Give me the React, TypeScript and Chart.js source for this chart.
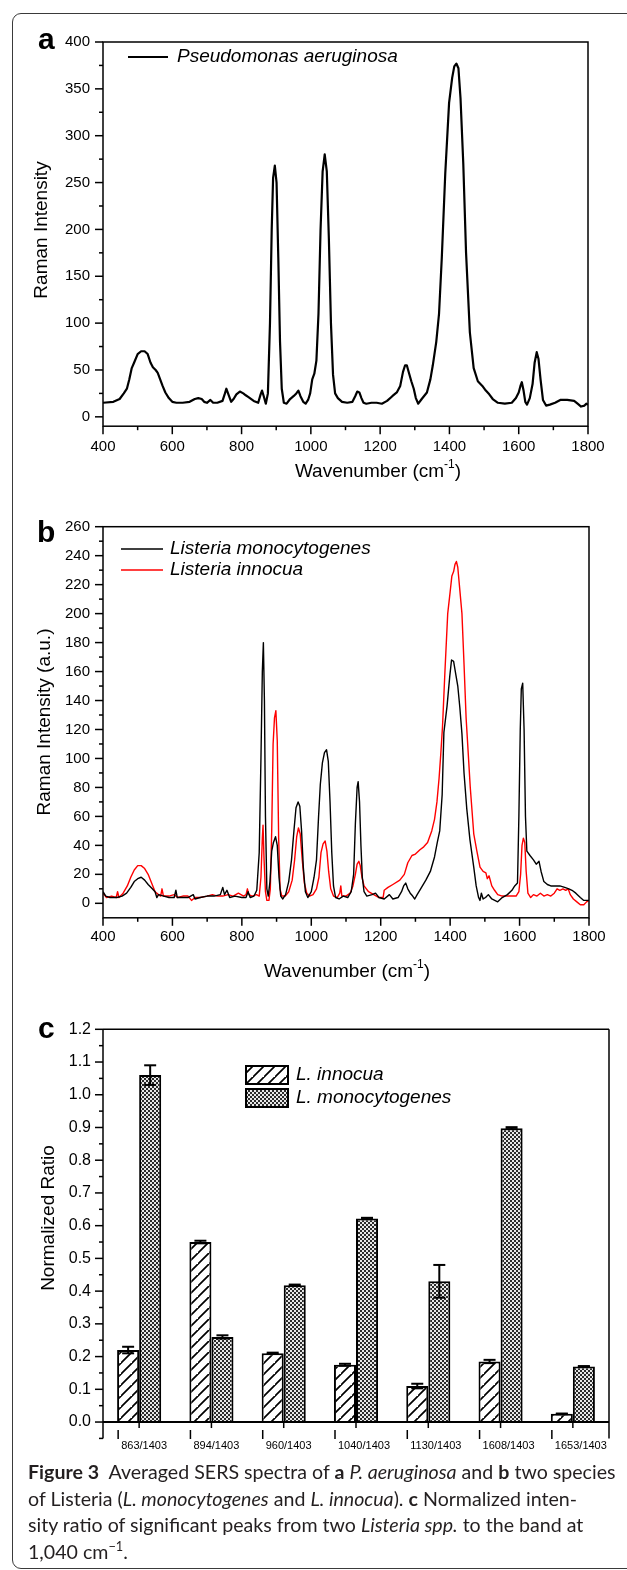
import React, { useEffect, useRef } from "react";
import { Chart, registerables } from "chart.js";

Chart.register(...registerables);

const SANS = "'Liberation Sans', Arial, Helvetica, sans-serif";
Chart.defaults.font.family = SANS;
Chart.defaults.color = "#000";

// ---------------- Panel a : Pseudomonas aeruginosa ----------------
const A_LABEL = "Pseudomonas aeruginosa";
const A_WAVENUMBER = [
  400, 430, 448, 460, 469, 476, 483, 490, 500, 510, 520, 529, 537, 544, 552, 558, 565, 572, 580, 590,
  600, 612, 630, 650, 665, 675, 685, 692, 700, 710, 718, 730, 745, 752, 756, 762, 770, 777, 785, 795,
  805, 812, 820, 835, 848, 855, 859, 864, 870, 876, 882, 887, 891, 896, 901, 906, 911, 916, 922, 930,
  940, 950, 958, 964, 970, 978, 985, 992, 998, 1004, 1010, 1016, 1022, 1028, 1034, 1040, 1046, 1052, 1058, 1064,
  1070, 1078, 1090, 1105, 1120, 1128, 1134, 1140, 1146, 1152, 1160, 1175, 1190, 1205, 1220, 1235, 1248, 1258, 1266, 1272,
  1277, 1283, 1290, 1297, 1303, 1310, 1320, 1335, 1345, 1352, 1362, 1370, 1378, 1388, 1399, 1408, 1414, 1420, 1426, 1432,
  1440, 1448, 1459, 1470, 1482, 1495, 1505, 1515, 1525, 1540, 1560, 1580, 1592, 1600, 1605, 1609, 1614, 1619, 1624, 1632,
  1640, 1646, 1652, 1657, 1663, 1670, 1679, 1690, 1705, 1720, 1740, 1760, 1770, 1780, 1790, 1795, 1800,
];
const A_INTENSITY = [
  15, 16, 19, 25, 30, 40, 52, 58, 67, 70, 70, 67, 58, 53, 50, 47, 40, 33, 26, 20,
  16, 15, 15, 16, 19, 20, 19, 16, 15, 18, 15, 15, 17, 25, 30, 24, 16, 19, 24, 27,
  25, 23, 21, 17, 15, 24, 28, 22, 14, 25, 100, 200, 255, 268, 250, 170, 80, 30, 15, 14,
  19, 22, 25, 28, 22, 16, 14, 18, 25, 40, 46, 60, 110, 200, 262, 280, 262, 190, 100, 45,
  25, 20, 16, 15, 16, 22, 27, 26, 20, 15, 14, 15, 15, 14, 17, 22, 26, 33, 48, 55,
  55, 47, 38, 30, 20, 14, 19, 26, 40, 55, 80, 110, 170, 260, 335, 362, 374, 377, 372, 340,
  270, 175, 90, 52, 38, 33, 28, 24, 19, 15, 14, 15, 20, 26, 33, 37, 28, 16, 13, 20,
  35, 58, 69, 62, 40, 18, 12, 13, 15, 18, 18, 17, 14, 11, 12, 14, 13,
];

// ---------------- Panel b : Listeria ----------------
const B_MONO_LABEL = "Listeria monocytogenes";
const B_MONO_WAVENUMBER = [
  400, 408, 420, 440, 455, 468, 480, 490, 500, 510, 520, 530, 542, 550, 555, 560, 575, 590, 605, 610,
  614, 630, 645, 660, 665, 680, 700, 720, 738, 745, 750, 757, 765, 780, 800, 812, 818, 824, 835, 843,
  850, 855, 859, 862, 865, 868, 872, 876, 881, 886, 891, 897, 902, 907, 912, 918, 926, 935, 943, 950,
  956, 962, 967, 972, 977, 983, 990, 1000, 1008, 1015, 1021, 1026, 1032, 1038, 1044, 1049, 1054, 1059, 1064, 1070,
  1080, 1092, 1105, 1115, 1122, 1127, 1132, 1135, 1139, 1143, 1147, 1152, 1160, 1175, 1185, 1195, 1210, 1225, 1235, 1250,
  1260, 1266, 1272, 1278, 1285, 1292, 1298, 1305, 1315, 1330, 1343, 1355, 1363, 1370, 1377, 1382, 1391, 1399, 1404, 1410,
  1417, 1422, 1428, 1434, 1440, 1448, 1457, 1468, 1475, 1482, 1486, 1490, 1495, 1502, 1510, 1520, 1537, 1550, 1565, 1578,
  1586, 1594, 1598, 1602, 1605, 1609, 1613, 1617, 1621, 1630, 1640, 1648, 1656, 1662, 1670, 1680, 1690, 1700, 1716, 1730,
  1742, 1751, 1762, 1775, 1785, 1795, 1800,
];
const B_MONO_INTENSITY = [
  8, 5, 4, 4, 5, 7, 11, 15, 17, 18, 16, 13, 10, 8, 4, 6, 5, 4, 4, 9,
  4, 4, 4, 6, 3, 4, 5, 5, 6, 11, 6, 9, 4, 5, 4, 4, 8, 4, 5, 9,
  35, 100, 160, 180, 140, 60, 10, 5, 15, 36, 42, 46, 40, 18, 5, 3, 6, 15, 30, 50,
  66, 70, 67, 50, 25, 8, 4, 8, 18, 30, 60, 82, 97, 104, 106, 98, 70, 35, 12, 4,
  3, 5, 4, 8, 20, 55, 80, 84, 70, 40, 18, 8, 5, 6, 7, 4, 3, 6, 3, 4,
  8, 12, 14, 10, 7, 5, 3, 6, 10, 16, 22, 32, 42, 50, 75, 118, 136, 157, 168, 167,
  157, 150, 135, 117, 90, 65, 44, 25, 12, 4, 2, 7, 3, 4, 6, 3, 1, 4, 6, 9,
  12, 14, 60, 120, 148, 152, 120, 60, 36, 33, 30, 27, 29, 22, 15, 13, 12, 12, 12, 11,
  10, 9, 7, 4, 2, 2, 2,
];
const B_INNO_LABEL = "Listeria innocua";
const B_INNO_WAVENUMBER = [
  400, 410, 425, 438, 442, 446, 458, 470, 480, 490, 500, 510, 520, 530, 540, 550, 560, 566, 570, 574,
  590, 605, 615, 630, 645, 655, 665, 680, 700, 715, 730, 745, 760, 775, 790, 805, 812, 816, 820, 830,
  842, 850, 855, 859, 861, 864, 868, 872, 878, 882, 886, 890, 894, 898, 902, 906, 910, 915, 925, 935,
  945, 952, 958, 963, 968, 974, 980, 987, 995, 1005, 1015, 1022, 1028, 1034, 1040, 1045, 1050, 1056, 1064, 1075,
  1082, 1085, 1088, 1100, 1112, 1120, 1127, 1132, 1137, 1141, 1146, 1152, 1165, 1180, 1195, 1207, 1210, 1221, 1235, 1255,
  1268, 1278, 1290, 1300, 1313, 1324, 1335, 1347, 1355, 1362, 1368, 1373, 1378, 1385, 1393, 1400, 1405, 1410, 1414, 1418,
  1422, 1428, 1434, 1440, 1446, 1451, 1458, 1468, 1477, 1486, 1495, 1503, 1507, 1512, 1520, 1528, 1537, 1550, 1570, 1590,
  1598, 1603, 1607, 1611, 1615, 1619, 1624, 1632, 1640, 1650, 1660, 1670, 1680, 1690, 1700, 1708, 1716, 1725, 1733, 1740,
  1746, 1755, 1765, 1775, 1785, 1793, 1800,
];
const B_INNO_INTENSITY = [
  7, 4, 5, 4, 8, 4, 7, 12, 18, 23, 26, 26, 24, 20, 14, 8, 6, 5, 10, 5,
  5, 6, 4, 5, 5, 2, 4, 4, 5, 6, 5, 5, 6, 5, 7, 5, 6, 10, 6, 5,
  6, 5, 18, 45, 54, 30, 8, 2, 2, 10, 50, 110, 128, 133, 112, 45, 10, 5, 5, 8,
  16, 30, 46, 52, 48, 30, 14, 7, 5, 6, 10, 18, 35, 41, 43, 36, 22, 10, 5, 4,
  7, 12, 5, 5, 7, 12, 20, 27, 29, 26, 18, 12, 8, 6, 4, 4, 9, 11, 13, 16,
  20, 28, 33, 34, 37, 39, 42, 50, 58, 70, 86, 103, 122, 160, 200, 215, 226, 229, 234, 236,
  232, 216, 200, 165, 128, 108, 80, 48, 36, 25, 22, 21, 17, 19, 12, 9, 6, 5, 5, 5,
  8, 20, 40, 45, 42, 22, 7, 4, 6, 5, 7, 5, 6, 5, 7, 10, 9, 10, 9, 10,
  6, 3, 1, -1, -1, 1, 2,
];

// ---------------- Panel c : normalized ratios ----------------
const C_LABELS = ["863/1403", "894/1403", "960/1403", "1040/1403", "1130/1403", "1608/1403", "1653/1403"];
const C_INNO_LABEL = "L. innocua";
const C_INNOCUA = [0.22, 0.55, 0.21, 0.175, 0.11, 0.185, 0.025];
const C_INNOCUA_ERR = [0.01, 0.004, 0.002, 0.003, 0.007, 0.005, 0.001];
const C_MONO_LABEL = "L. monocytogenes";
const C_MONO = [1.06, 0.26, 0.418, 0.622, 0.43, 0.898, 0.17];
const C_MONO_ERR = [0.03, 0.005, 0.002, 0.002, 0.05, 0.003, 0.001];

// ---------------- ticks ----------------
const X_MAJOR = [400, 600, 800, 1000, 1200, 1400, 1600, 1800];
const X_MINOR = [500, 700, 900, 1100, 1300, 1500, 1700];
const A_Y_MAJOR = [0, 50, 100, 150, 200, 250, 300, 350, 400];
const A_Y_MINOR = [25, 75, 125, 175, 225, 275, 325, 375];
const B_Y_MAJOR = [0, 20, 40, 60, 80, 100, 120, 140, 160, 180, 200, 220, 240, 260];
const B_Y_MINOR = [10, 30, 50, 70, 90, 110, 130, 150, 170, 190, 210, 230, 250];
const C_Y_MAJOR = [0, 0.1, 0.2, 0.3, 0.4, 0.5, 0.6, 0.7, 0.8, 0.9, 1.0, 1.1, 1.2];
const C_Y_MINOR = [-0.05, 0.05, 0.15, 0.25, 0.35, 0.45, 0.55, 0.65, 0.75, 0.85, 0.95, 1.05, 1.15];

const toPoints = (xs: number[], ys: number[]) => xs.map((x, i) => ({ x, y: ys[i] }));

function seg(ctx: CanvasRenderingContext2D, x1: number, y1: number, x2: number, y2: number) {
  ctx.beginPath();
  ctx.moveTo(x1, y1);
  ctx.lineTo(x2, y2);
  ctx.stroke();
}

function rotatedText(ctx: CanvasRenderingContext2D, text: string, cx: number, cy: number, font: string) {
  ctx.save();
  ctx.translate(cx, cy);
  ctx.rotate(-Math.PI / 2);
  ctx.font = font;
  ctx.textAlign = "center";
  ctx.textBaseline = "middle";
  ctx.fillStyle = "#000";
  ctx.fillText(text, 0, 0);
  ctx.restore();
}

function wavenumberTitle(ctx: CanvasRenderingContext2D, cx: number, cy: number) {
  const main = "19px " + SANS;
  const sup = "12px " + SANS;
  ctx.save();
  ctx.fillStyle = "#000";
  ctx.textAlign = "left";
  ctx.textBaseline = "alphabetic";
  ctx.font = main;
  const w1 = ctx.measureText("Wavenumber (cm").width;
  const w3 = ctx.measureText(")").width;
  ctx.font = sup;
  const w2 = ctx.measureText("-1").width;
  const x0 = cx - (w1 + w2 + w3) / 2;
  const base = cy + 7;
  ctx.font = main;
  ctx.fillText("Wavenumber (cm", x0, base);
  ctx.font = sup;
  ctx.fillText("-1", x0 + w1, base - 9);
  ctx.font = main;
  ctx.fillText(")", x0 + w1 + w2, base);
  ctx.restore();
}

const spectrumDecor = {
  id: "decor",
  afterDraw(chart: any, _a: any, o: any) {
    const { ctx, chartArea: ca } = chart;
    const xs = chart.scales.x;
    const ys = chart.scales.y;
    const t = o.top;
    ctx.save();
    ctx.strokeStyle = "#000";
    ctx.fillStyle = "#000";
    ctx.lineWidth = 1.5;
    ctx.strokeRect(ca.left, ca.top, ca.right - ca.left, ca.bottom - ca.top);
    for (const v of X_MAJOR) { const p = xs.getPixelForValue(v); seg(ctx, p, ca.bottom, p, ca.bottom + 8); }
    for (const v of X_MINOR) { const p = xs.getPixelForValue(v); seg(ctx, p, ca.bottom, p, ca.bottom + 4); }
    for (const v of o.yMajor) { const p = ys.getPixelForValue(v); seg(ctx, ca.left - 8, p, ca.left, p); }
    for (const v of o.yMinor) { const p = ys.getPixelForValue(v); seg(ctx, ca.left - 4, p, ca.left, p); }
    // panel letter
    ctx.font = "bold 30px " + SANS;
    ctx.textAlign = "left";
    ctx.textBaseline = "alphabetic";
    ctx.fillText(o.letter, o.letterX, o.letterY - t);
    // legend
    chart.data.datasets.forEach((ds: any, i: number) => {
      const y = o.legendY[i] - t;
      ctx.strokeStyle = ds.borderColor;
      ctx.lineWidth = o.legendLineWidth;
      seg(ctx, o.legendX1, y, o.legendX2, y);
      ctx.fillStyle = "#000";
      ctx.font = "italic 19px " + SANS;
      ctx.textBaseline = "middle";
      ctx.textAlign = "left";
      ctx.fillText(ds.label, o.legendTextX, y);
    });
    rotatedText(ctx, o.yTitle, o.yTitleX, o.yTitleY - t, "19px " + SANS);
    wavenumberTitle(ctx, o.xTitleX, o.xTitleY - t);
    ctx.restore();
  },
};

function spectrumConfig(opts: any) {
  return {
    type: "line",
    data: { datasets: opts.datasets },
    options: {
      responsive: false,
      animation: false,
      events: [],
      layout: { padding: { left: 0, right: 627 - opts.plotRight, top: opts.plotTop - opts.top, bottom: 0 } },
      elements: { point: { radius: 0 }, line: { tension: 0, borderJoinStyle: "round" } },
      scales: {
        x: {
          type: "linear",
          min: 400,
          max: 1800,
          afterBuildTicks: (s: any) => { s.ticks = X_MAJOR.map((v) => ({ value: v })); },
          afterFit: (s: any) => { s.height = opts.height - (opts.plotBottom - opts.top); },
          grid: { display: false, drawTicks: false },
          border: { display: false },
          ticks: { font: { size: 15, family: SANS }, color: "#000", padding: opts.xPad, maxRotation: 0, autoSkip: false, callback: (v: any) => String(v) },
        },
        y: {
          type: "linear",
          min: opts.yMin,
          max: opts.yMax,
          afterBuildTicks: (s: any) => { s.ticks = opts.yMajor.map((v: number) => ({ value: v })); },
          afterFit: (s: any) => { s.width = opts.plotLeft; },
          grid: { display: false, drawTicks: false },
          border: { display: false },
          ticks: { font: { size: 15, family: SANS }, color: "#000", padding: 13, autoSkip: false, callback: (v: any) => String(v) },
        },
      },
      plugins: {
        legend: { display: false },
        tooltip: { enabled: false },
        decor: opts.decor,
      },
    },
    plugins: [spectrumDecor],
  } as any;
}

function hatchPattern(): CanvasPattern {
  const c = document.createElement("canvas");
  const n = 11;
  c.width = n;
  c.height = n;
  const g = c.getContext("2d")!;
  g.fillStyle = "#fff";
  g.fillRect(0, 0, n, n);
  g.strokeStyle = "#000";
  g.lineWidth = 1.7;
  g.beginPath();
  g.moveTo(-2, n + 2); g.lineTo(n + 2, -2);
  g.moveTo(-2 - n, n + 2); g.lineTo(2, -2);
  g.moveTo(n - 2, 2 * n + 2); g.lineTo(2 * n + 2, n - 2);
  g.stroke();
  return g.createPattern(c, "repeat")!;
}

function dotPattern(): CanvasPattern {
  const c = document.createElement("canvas");
  c.width = 4;
  c.height = 4;
  const g = c.getContext("2d")!;
  g.fillStyle = "#2b2b2b";
  g.fillRect(0, 0, 4, 4);
  g.fillStyle = "#e8e8e8";
  g.fillRect(0, 0, 2, 2);
  g.fillRect(2, 2, 2, 2);
  return g.createPattern(c, "repeat")!;
}

const barDecor = {
  id: "bdecor",
  afterDatasetsDraw(chart: any) {
    const { ctx } = chart;
    const ys = chart.scales.y;
    ctx.save();
    ctx.strokeStyle = "#000";
    ctx.lineWidth = 2;
    chart.data.datasets.forEach((ds: any, i: number) => {
      const meta = chart.getDatasetMeta(i);
      ds.data.forEach((v: number, j: number) => {
        const el = meta.data[j];
        const e = ds.errors[j];
        const yt = ys.getPixelForValue(v + e);
        const yb = ys.getPixelForValue(v - e);
        seg(ctx, el.x, yt, el.x, yb);
        seg(ctx, el.x - 6, yt, el.x + 6, yt);
        seg(ctx, el.x - 6, yb, el.x + 6, yb);
      });
    });
    ctx.restore();
  },
  afterDraw(chart: any, _a: any, o: any) {
    const { ctx, chartArea: ca } = chart;
    const xs = chart.scales.x;
    const ys = chart.scales.y;
    const t = o.top;
    ctx.save();
    ctx.strokeStyle = "#000";
    ctx.fillStyle = "#000";
    ctx.lineWidth = 1.5;
    seg(ctx, ca.left, ca.top, ca.right, ca.top);
    seg(ctx, ca.left, ca.top, ca.left, ca.bottom);
    seg(ctx, ca.right, ca.top, ca.right, ca.bottom);
    const y0 = ys.getPixelForValue(0);
    ctx.lineWidth = 2;
    seg(ctx, ca.left, y0, ca.right, y0);
    ctx.lineWidth = 1.5;
    for (const v of C_Y_MAJOR) { const p = ys.getPixelForValue(v); seg(ctx, ca.left - 8, p, ca.left, p); }
    for (const v of C_Y_MINOR) { const p = ys.getPixelForValue(v); seg(ctx, ca.left - 4, p, ca.left, p); }
    ctx.font = "11px " + SANS;
    ctx.textAlign = "left";
    ctx.textBaseline = "middle";
    chart.data.labels.forEach((lab: string, i: number) => {
      const p = xs.getPixelForValue(i);
      seg(ctx, p, y0, p, y0 + 6);
      seg(ctx, p - 21, o.markY1 - t, p - 21, o.markY2 - t);
      ctx.fillText(lab, p - 18, o.labelY - t);
    });
    chart.data.datasets.forEach((ds: any, i: number) => {
      const yTop = o.legendY[i] - t;
      ctx.fillStyle = ds.backgroundColor;
      ctx.fillRect(o.legendX, yTop, o.legendW, o.legendH);
      ctx.lineWidth = 2;
      ctx.strokeStyle = "#000";
      ctx.strokeRect(o.legendX, yTop, o.legendW, o.legendH);
      ctx.fillStyle = "#000";
      ctx.font = "italic 19px " + SANS;
      ctx.textBaseline = "middle";
      ctx.fillText(ds.label, o.legendTextX, yTop + o.legendH / 2);
    });
    ctx.font = "bold 30px " + SANS;
    ctx.textBaseline = "alphabetic";
    ctx.fillText(o.letter, o.letterX, o.letterY - t);
    rotatedText(ctx, o.yTitle, o.yTitleX, o.yTitleY - t, "19px " + SANS);
    ctx.restore();
  },
};

const CAPTION_FONT = "Lato, 'Open Sans', sans-serif";

export default function App() {
  const refA = useRef<HTMLCanvasElement>(null);
  const refB = useRef<HTMLCanvasElement>(null);
  const refC = useRef<HTMLCanvasElement>(null);

  useEffect(() => {
    const charts: Chart[] = [];
    charts.push(
      new Chart(
        refA.current!,
        spectrumConfig({
          top: 20, height: 480, plotLeft: 103, plotRight: 588, plotTop: 35, plotBottom: 426.2,
          yMin: -10, yMax: 400, yMajor: A_Y_MAJOR, xPad: 11.5,
          datasets: [
            { label: A_LABEL, data: toPoints(A_WAVENUMBER, A_INTENSITY), borderColor: "#000", borderWidth: 2.2 },
          ],
          decor: {
            top: 20, yMajor: A_Y_MAJOR, yMinor: A_Y_MINOR, letter: "a", letterX: 38, letterY: 49,
            legendY: [57], legendX1: 128, legendX2: 168, legendTextX: 177, legendLineWidth: 2,
            yTitle: "Raman Intensity", yTitleX: 42, yTitleY: 230, xTitleX: 378, xTitleY: 470,
          },
        })
      )
    );
    charts.push(
      new Chart(
        refB.current!,
        spectrumConfig({
          top: 500, height: 500, plotLeft: 103, plotRight: 589, plotTop: 526.7, plotBottom: 917.8,
          yMin: -10, yMax: 260, yMajor: B_Y_MAJOR, xPad: 10,
          datasets: [
            { label: B_MONO_LABEL, data: toPoints(B_MONO_WAVENUMBER, B_MONO_INTENSITY), borderColor: "#000", borderWidth: 1.4 },
            { label: B_INNO_LABEL, data: toPoints(B_INNO_WAVENUMBER, B_INNO_INTENSITY), borderColor: "#ff0000", borderWidth: 1.4 },
          ],
          decor: {
            top: 500, yMajor: B_Y_MAJOR, yMinor: B_Y_MINOR, letter: "b", letterX: 37, letterY: 542,
            legendY: [549, 570], legendX1: 121, legendX2: 163, legendTextX: 170, legendLineWidth: 1.4,
            yTitle: "Raman Intensity (a.u.)", yTitleX: 45, yTitleY: 722, xTitleX: 347, xTitleY: 970,
          },
        })
      )
    );
    const cTop = 1000;
    const cHeight = 460;
    const cPlotTop = 1029.3;
    const cPlotBottom = 1440.4;
    charts.push(
      new Chart(refC.current!, {
        type: "bar",
        data: {
          labels: C_LABELS,
          datasets: [
            { label: C_INNO_LABEL, data: C_INNOCUA, errors: C_INNOCUA_ERR, backgroundColor: hatchPattern(), borderColor: "#000", borderWidth: 2 } as any,
            { label: C_MONO_LABEL, data: C_MONO, errors: C_MONO_ERR, backgroundColor: dotPattern(), borderColor: "#000", borderWidth: 2 } as any,
          ],
        },
        options: {
          responsive: false,
          animation: false,
          events: [],
          layout: { padding: { left: 0, right: 627 - 609, top: cPlotTop - cTop, bottom: 0 } },
          datasets: { bar: { categoryPercentage: 0.61, barPercentage: 1 } },
          scales: {
            x: {
              type: "category",
              offset: true,
              grid: { display: false, drawTicks: false },
              border: { display: false },
              ticks: { display: false },
              afterFit: (s: any) => { s.height = cHeight - (cPlotBottom - cTop); },
            },
            y: {
              type: "linear",
              min: -0.05,
              max: 1.2,
              afterBuildTicks: (s: any) => { s.ticks = C_Y_MAJOR.map((v) => ({ value: v })); },
              afterFit: (s: any) => { s.width = 103; },
              grid: { display: false, drawTicks: false },
              border: { display: false },
              ticks: { font: { size: 16, family: SANS }, color: "#000", padding: 12, autoSkip: false, callback: (v: any) => Number(v).toFixed(1) },
            },
          },
          plugins: {
            legend: { display: false },
            tooltip: { enabled: false },
            bdecor: {
              top: cTop, markY1: 1430, markY2: 1439, labelY: 1445.5,
              legendY: [1066, 1089], legendX: 246, legendW: 42, legendH: 18, legendTextX: 296,
              letter: "c", letterX: 38, letterY: 1038,
              yTitle: "Normalized Ratio", yTitleX: 49, yTitleY: 1218,
            },
          } as any,
        },
        plugins: [barDecor],
      } as any)
    );
    return () => charts.forEach((c) => c.destroy());
  }, []);

  const capLine: React.CSSProperties = { whiteSpace: "nowrap", height: 26.5, lineHeight: "26.5px" };

  return (
    <div style={{ position: "fixed", left: 0, top: 0, width: 627, height: 1570, overflow: "hidden", background: "#fff" }}>
      <div
        style={{
          position: "absolute", left: 12, top: 13, width: 700, height: 1556,
          border: "1.5px solid #3a3a3a", borderRadius: 9, boxSizing: "border-box",
        }}
      />
      <canvas ref={refA} width={627} height={480} style={{ position: "absolute", left: 0, top: 20 }} />
      <canvas ref={refB} width={627} height={500} style={{ position: "absolute", left: 0, top: 500 }} />
      <canvas ref={refC} width={627} height={460} style={{ position: "absolute", left: 0, top: 1000 }} />
      <div style={{ position: "absolute", left: 28, top: 1459, fontFamily: CAPTION_FONT, fontSize: 19.6, color: "#231f20" }}>
        <div style={capLine}><b>Figure 3</b>{"\u00a0\u00a0"}Averaged SERS spectra of <b>a</b> <i>P. aeruginosa</i> and <b>b</b> two species</div>
        <div style={capLine}>of Listeria (<i>L. monocytogenes</i> and <i>L. innocua</i>). <b>c</b> Normalized inten-</div>
        <div style={capLine}>sity ratio of significant peaks from two <i>Listeria spp.</i> to the band at</div>
        <div style={capLine}>1,040 cm<sup style={{ fontSize: "0.65em", lineHeight: 0 }}>−1</sup>.</div>
      </div>
    </div>
  );
}
